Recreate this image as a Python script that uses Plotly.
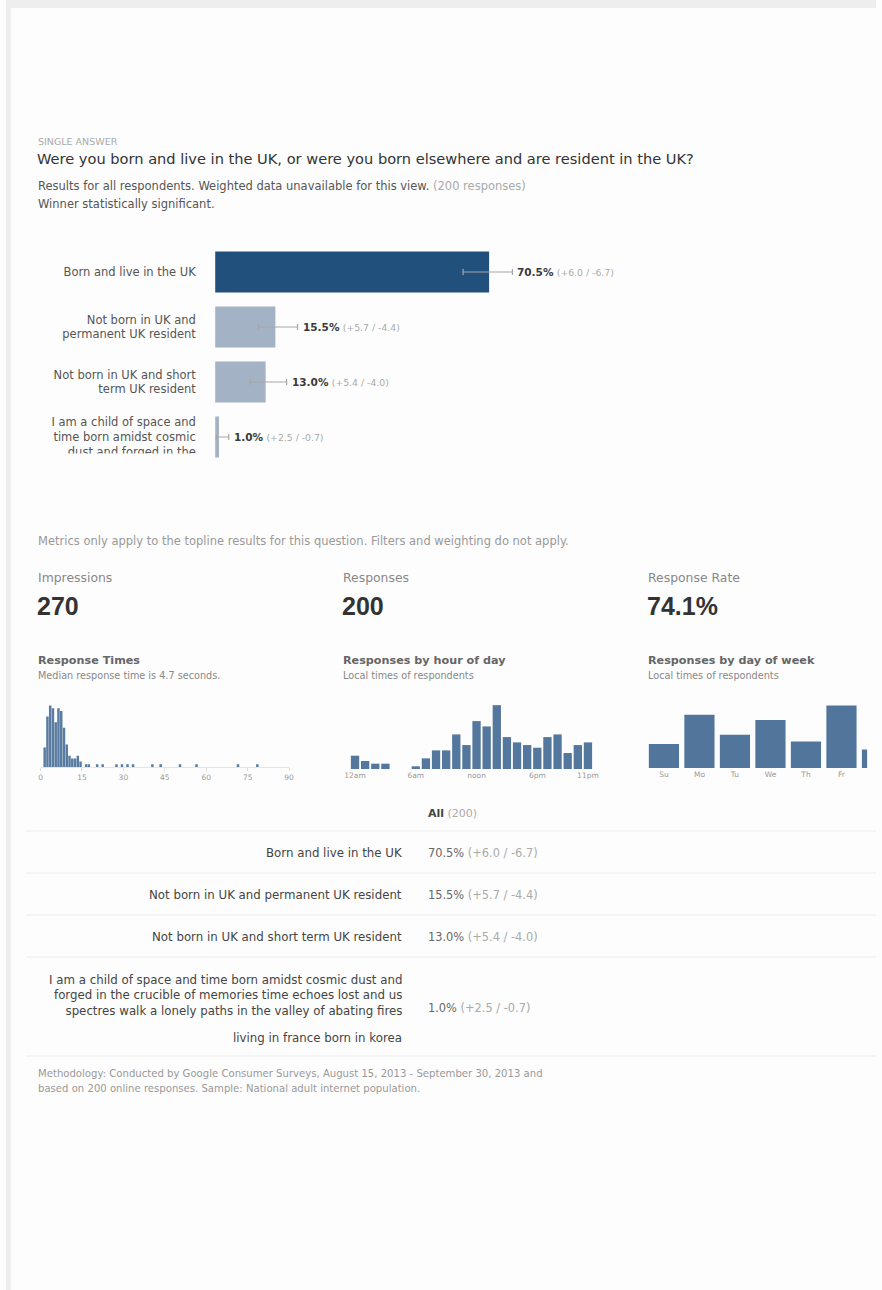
import plotly.graph_objects as go

# ---------------- data ----------------
question = "Were you born and live in the UK, or were you born elsewhere and are resident in the UK?"
answers = [
    "Born and live in the UK",
    "Not born in UK and permanent UK resident",
    "Not born in UK and short term UK resident",
    "I am a child of space and time born amidst cosmic dust and forged in the crucible of memories time echoes lost and us spectres walk a lonely paths in the valley of abating fires",
]
answer_ticks = [
    "Born and live in the UK",
    "Not born in UK and<br>permanent UK resident",
    "Not born in UK and short<br>term UK resident",
    "I am a child of space and<br>time born amidst cosmic<br>dust and forged in the",
]
answer_extra = "living in france born in korea"
pct = [70.5, 15.5, 13.0, 1.0]
ci_plus = [6.0, 5.7, 5.4, 2.5]
ci_minus = [6.7, 4.4, 4.0, 0.7]

impressions = 270
responses = 200
response_rate = "74.1%"
median_time = 4.7

# response time histogram (1-second bins, left edge in seconds)
rt_seconds = [1, 2, 3, 4, 5, 6, 7, 8, 9, 10, 11, 12, 13, 14,
              16, 17, 20, 22, 27, 29, 31, 33, 40, 43, 50, 56, 71, 78]
rt_counts = [7, 18, 22, 21, 16, 21, 20, 14, 8, 4, 3, 3, 4, 2,
             1, 1, 1, 1, 1, 1, 1, 1, 1, 1, 1, 1, 1, 1]
rt_ticks = [0, 15, 30, 45, 60, 75, 90]

hours = list(range(24))
hour_counts = [5, 3, 2, 2, 0, 0, 1, 4, 7, 7, 13, 9, 18, 16, 24, 12, 10, 9, 8, 12, 13, 6, 9, 10]
hour_tickvals = [0, 6, 12, 18, 23]
hour_ticktext = ["12am", "6am", "noon", "6pm", "11pm"]

days = ["Su", "Mo", "Tu", "We", "Th", "Fr", "Sa"]
day_counts = [18, 40, 25, 36, 20, 47, 14]

methodology = [
    "Methodology: Conducted by Google Consumer Surveys, August 15, 2013 - September 30, 2013 and",
    "based on 200 online responses. Sample: National adult internet population.",
]

# ---------------- layout helpers ----------------
W, H = 882, 1290
FONT = "DejaVu Sans, Verdana, sans-serif"
NUM_FONT = "Arial, Liberation Sans, sans-serif"
BG = "#fdfdfd"


def px(x):
    return x / W


def py(y):
    return 1 - y / H


annotations = []
shapes = []


def text(s, x, y, size, color="#333", anchor="left", family=FONT):
    annotations.append(dict(
        text=s, x=px(x), y=py(y), xref="paper", yref="paper",
        xanchor=anchor, yanchor="middle", showarrow=False, borderpad=0,
        font=dict(family=family, size=size, color=color), align=anchor,
    ))


fig = go.Figure()

# ---------------- main answer bars ----------------
bar_colors = ["#22507d", "#a3b2c5", "#a3b2c5", "#a3b2c5"]
fig.add_trace(go.Bar(
    x=pct, y=list(range(len(pct))), orientation="h",
    marker=dict(color=bar_colors, line=dict(width=0)),
    error_x=dict(type="data", symmetric=False, array=ci_plus, arrayminus=ci_minus,
                 color="#aaa5a8", thickness=1.2, width=3),
    xaxis="x", yaxis="y", hoverinfo="skip",
))
for i, (v, p, m) in enumerate(zip(pct, ci_plus, ci_minus)):
    annotations.append(dict(
        text=f"<b>{v:.1f}%</b> <span style='font-size:9.3px;color:#aaa'>(+{p:.1f} / -{m:.1f})</span>",
        x=v + p, y=i, xref="x", yref="y", xanchor="left", yanchor="middle", borderpad=0,
        xshift=4, showarrow=False, font=dict(family=FONT, size=10.5, color="#3a3a3a"),
    ))

# ---------------- small charts ----------------
fig.add_trace(go.Bar(
    x=[s + 0.5 for s in rt_seconds], y=rt_counts, width=0.9,
    marker=dict(color="#5a7ca0", line=dict(width=0)),
    xaxis="x2", yaxis="y2", hoverinfo="skip",
))
fig.add_trace(go.Bar(
    x=hours, y=hour_counts, width=0.82,
    marker=dict(color="#54779d", line=dict(width=0)),
    xaxis="x3", yaxis="y3", hoverinfo="skip",
))
fig.add_trace(go.Bar(
    x=list(range(len(days))), y=day_counts, width=0.85,
    marker=dict(color="#52759c", line=dict(width=0)),
    xaxis="x4", yaxis="y4", hoverinfo="skip",
))

# ---------------- texts ----------------
text("SINGLE ANSWER", 31, 141, 9.5, "#aaa")
text(question, 30, 158, 14.6, "#333")
text("Results for all respondents. Weighted data unavailable for this view. "
     f"<span style='color:#aaa'>({responses} responses)</span>", 31, 186, 11.5, "#555")
text("Winner statistically significant.", 31, 204, 11.5, "#555")

text("Metrics only apply to the topline results for this question. Filters and weighting do not apply.",
     31, 541, 11.5, "#999")
for x0, label, value in [(31, "Impressions", f"{impressions}"),
                         (341, "Responses", f"{responses}"),
                         (650, "Response Rate", response_rate)]:
    text(label, x0, 578, 12.4, "#888")
    text(f"<b>{value}</b>", x0 - 1, 606, 25, "#333", family=NUM_FONT)

text("<b>Response Times</b>", 31, 660, 11.2, "#666")
text(f"Median response time is {median_time} seconds.", 31, 675, 9.7, "#888")
text("<b>Responses by hour of day</b>", 341, 660, 11.2, "#666")
text("Local times of respondents", 341, 675, 9.7, "#888")
text("<b>Responses by day of week</b>", 650, 660, 11.2, "#666")
text("Local times of respondents", 650, 675, 9.7, "#888")

# ---------------- crosstab table ----------------
text(f"<b>All</b> <span style='color:#aaa'>({responses})</span>", 427, 813, 11, "#444")
row_y = [853, 895, 937]
for i in range(3):
    text(answers[i], 402, row_y[i], 11.8, "#444", anchor="right")
    text(f"{pct[i]:.1f}% <span style='color:#aaa'>(+{ci_plus[i]:.1f} / -{ci_minus[i]:.1f})</span>",
         427, row_y[i], 11.4, "#666")
long_words = answers[3].split(" ")
long_lines = [" ".join(long_words[0:13]), " ".join(long_words[13:24]), " ".join(long_words[24:])]
text("<br>".join(long_lines), 402, 995, 11.8, "#444", anchor="right")
text(answer_extra, 402, 1038, 11.8, "#444", anchor="right")
text(f"{pct[3]:.1f}% <span style='color:#aaa'>(+{ci_plus[3]:.1f} / -{ci_minus[3]:.1f})</span>",
     427, 1008, 11.4, "#666")
for yy in [831, 873, 915, 957, 1056]:
    shapes.append(dict(type="line", xref="paper", yref="paper", x0=px(20), x1=1,
                       y0=py(yy), y1=py(yy), line=dict(color="#ececec", width=1)))

text(methodology[0], 31, 1073, 10.1, "#999")
text(methodology[1], 31, 1088, 10.1, "#999")

# page frame and the clipped edge of the long answer label
shapes.append(dict(type="rect", xref="paper", yref="paper", x0=0, x1=1, y0=py(8), y1=1,
                   fillcolor="#eeeeee", line=dict(width=0), layer="above"))
shapes.append(dict(type="rect", xref="paper", yref="paper", x0=0, x1=px(5), y0=0, y1=1,
                   fillcolor="#eeeeee", line=dict(width=0), layer="above"))
shapes.append(dict(type="rect", xref="paper", yref="paper", x0=px(20), x1=px(205),
                   y0=py(475), y1=py(453.5), fillcolor=BG, line=dict(width=0), layer="above"))

tick_font = dict(family=FONT, size=7.5, color="#999")
fig.update_layout(
    width=W, height=H, margin=dict(l=0, r=0, t=0, b=0),
    paper_bgcolor=BG, plot_bgcolor="rgba(0,0,0,0)",
    showlegend=False, barmode="overlay", bargap=0.255,
    font=dict(family=FONT),
    annotations=annotations, shapes=shapes,
    xaxis=dict(domain=[px(212), px(606)], range=[0, 100], visible=False, fixedrange=True),
    yaxis=dict(domain=[py(464.5), py(244.5)], range=[3.5, -0.5], tickmode="array",
               tickvals=list(range(4)), ticktext=answer_ticks, showgrid=False, zeroline=False,
               showline=False, ticks="outside", ticklen=16, tickcolor="rgba(0,0,0,0)",
               tickfont=dict(family=FONT, size=11.5, color="#555")),
    xaxis2=dict(domain=[px(35), px(287)], range=[0, 90], tickvals=rt_ticks, anchor="y2",
                showgrid=False, zeroline=False, showline=True, linecolor="#e4e4e4",
                ticks="outside", ticklen=3, tickcolor="#ddd", tickfont=tick_font),
    yaxis2=dict(domain=[py(767), py(700)], range=[0, 67 / 2.8], visible=False, anchor="x2"),
    xaxis3=dict(domain=[px(348.7), px(595.1)], range=[-0.5, 23.5], tickmode="array",
                tickvals=hour_tickvals, ticktext=hour_ticktext, anchor="y3",
                showgrid=False, zeroline=False, showline=False, ticks="", tickfont=tick_font),
    yaxis3=dict(domain=[py(769), py(700)], range=[0, 69 / 2.66], visible=False, anchor="x3"),
    xaxis4=dict(domain=[px(649), px(873)], range=[-0.5, -0.5 + 224 / 36], tickmode="array",
                tickvals=list(range(len(days))), ticktext=days, anchor="y4",
                showgrid=False, zeroline=False, showline=False, ticks="", tickfont=tick_font),
    yaxis4=dict(domain=[py(768), py(700)], range=[0, 68 / 1.33], visible=False, anchor="x4"),
)

fig.write_html("out.html")
